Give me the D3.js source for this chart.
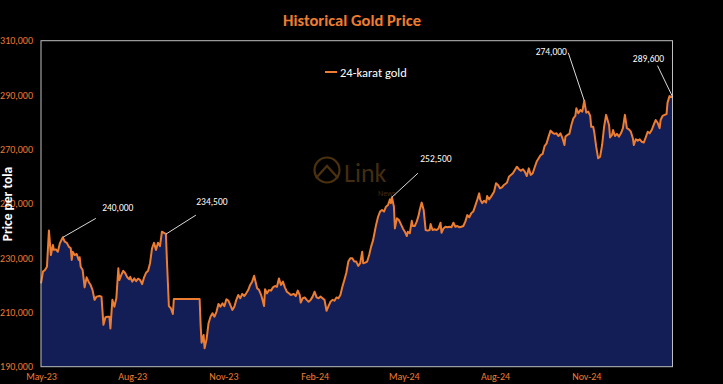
<!DOCTYPE html>
<html>
<head>
<meta charset="utf-8">
<script src="https://cdn.jsdelivr.net/npm/d3@7/dist/d3.min.js"></script>
<style>
  html, body { margin: 0; padding: 0; background: #000; }
  svg { display: block; }
</style>
</head>
<body>
<svg id="chart" width="723" height="384"></svg>
<script>
const title = "Historical Gold Price";
const seriesName = "24-karat gold";
const yAxisTitle = "Price per tola";

const dates = [
"2023-05-01","2023-05-03","2023-05-05","2023-05-07","2023-05-09","2023-05-11","2023-05-13","2023-05-14","2023-05-16","2023-05-18",
"2023-05-20","2023-05-22","2023-05-23","2023-05-25","2023-05-27","2023-05-29","2023-05-31","2023-06-01","2023-06-02","2023-06-04",
"2023-06-06","2023-06-08","2023-06-09","2023-06-10","2023-06-12","2023-06-14","2023-06-16","2023-06-18","2023-06-20","2023-06-22",
"2023-06-24","2023-06-26","2023-06-29","2023-07-01","2023-07-03","2023-07-05","2023-07-07","2023-07-09","2023-07-10","2023-07-12",
"2023-07-14","2023-07-16","2023-07-18","2023-07-19","2023-07-21","2023-07-23","2023-07-25","2023-07-27","2023-07-29","2023-07-30",
"2023-08-01","2023-08-03","2023-08-05","2023-08-07","2023-08-09","2023-08-11","2023-08-13","2023-08-15","2023-08-17","2023-08-19",
"2023-08-21","2023-08-23","2023-08-25","2023-08-27","2023-08-29","2023-08-31","2023-09-02","2023-09-04","2023-09-05","2023-09-07",
"2023-09-09","2023-09-11","2023-09-12","2023-10-08","2023-10-09","2023-10-10","2023-10-12","2023-10-13","2023-10-15","2023-10-17",
"2023-10-19","2023-10-21","2023-10-23","2023-10-25","2023-10-27","2023-10-29","2023-10-31","2023-11-02","2023-11-04","2023-11-06",
"2023-11-08","2023-11-10","2023-11-12","2023-11-14","2023-11-16","2023-11-18","2023-11-20","2023-11-22","2023-11-24","2023-11-26",
"2023-11-28","2023-11-30","2023-12-02","2023-12-03","2023-12-05","2023-12-07","2023-12-09","2023-12-10","2023-12-12","2023-12-13",
"2023-12-15","2023-12-17","2023-12-19","2023-12-21","2023-12-23","2023-12-25","2023-12-27","2023-12-29","2023-12-31","2024-01-02",
"2024-01-04","2024-01-06","2024-01-08","2024-01-11","2024-01-13","2024-01-15","2024-01-17","2024-01-18","2024-01-20","2024-01-22",
"2024-01-24","2024-01-26","2024-01-28","2024-01-30","2024-02-01","2024-02-03","2024-02-05","2024-02-07","2024-02-09","2024-02-11",
"2024-02-13","2024-02-15","2024-02-17","2024-02-19","2024-02-21","2024-02-23","2024-02-25","2024-02-27","2024-02-29","2024-03-02",
"2024-03-04","2024-03-06","2024-03-08","2024-03-10","2024-03-12","2024-03-14","2024-03-16","2024-03-18","2024-03-20","2024-03-21",
"2024-03-23","2024-03-25","2024-03-27","2024-03-29","2024-03-31","2024-04-01","2024-04-03","2024-04-05","2024-04-07","2024-04-09",
"2024-04-11","2024-04-13","2024-04-15","2024-04-17","2024-04-18","2024-04-19","2024-04-21","2024-04-22","2024-04-24","2024-04-26",
"2024-04-28","2024-04-30","2024-05-02","2024-05-04","2024-05-05","2024-05-07","2024-05-09","2024-05-10","2024-05-12","2024-05-14",
"2024-05-16","2024-05-17","2024-05-19","2024-05-21","2024-05-23","2024-05-25","2024-05-27","2024-05-28","2024-05-30","2024-06-01",
"2024-06-03","2024-06-05","2024-06-07","2024-06-08","2024-06-10","2024-06-12","2024-06-14","2024-06-16","2024-06-18","2024-06-20",
"2024-06-22","2024-06-24","2024-06-26","2024-06-28","2024-06-30","2024-07-02","2024-07-04","2024-07-06","2024-07-08","2024-07-10",
"2024-07-12","2024-07-14","2024-07-16","2024-07-17","2024-07-19","2024-07-21","2024-07-23","2024-07-24","2024-07-26","2024-07-28",
"2024-07-31","2024-08-02","2024-08-04","2024-08-06","2024-08-08","2024-08-10","2024-08-13","2024-08-15","2024-08-17","2024-08-19",
"2024-08-21","2024-08-23","2024-08-25","2024-08-27","2024-08-29","2024-08-31","2024-09-02","2024-09-04","2024-09-06","2024-09-08",
"2024-09-10","2024-09-12","2024-09-14","2024-09-16","2024-09-18","2024-09-20","2024-09-22","2024-09-24","2024-09-26","2024-09-28",
"2024-09-30","2024-10-02","2024-10-04","2024-10-06","2024-10-08","2024-10-10","2024-10-11","2024-10-13","2024-10-15","2024-10-17",
"2024-10-19","2024-10-21","2024-10-22","2024-10-24","2024-10-26","2024-10-28","2024-10-30","2024-11-01","2024-11-03","2024-11-05",
"2024-11-06","2024-11-08","2024-11-09","2024-11-11","2024-11-13","2024-11-15","2024-11-17","2024-11-19","2024-11-21","2024-11-24",
"2024-11-25","2024-11-27","2024-11-28","2024-11-30","2024-12-02","2024-12-04","2024-12-06","2024-12-08","2024-12-10","2024-12-12",
"2024-12-14","2024-12-16","2024-12-18","2024-12-19","2024-12-21","2024-12-23","2024-12-25","2024-12-27","2024-12-29","2024-12-31",
"2025-01-02","2025-01-04","2025-01-06","2025-01-08","2025-01-10","2025-01-12","2025-01-14","2025-01-15","2025-01-17","2025-01-19",
"2025-01-21","2025-01-22","2025-01-24","2025-01-26","2025-01-27"
];

const prices = [
220700,225000,225600,226800,240100,231100,234800,233000,233200,232300,
235400,236900,237600,236000,235600,234200,233600,229300,232300,231100,
231500,229300,230300,226800,225600,219200,222900,221300,220100,218200,
214600,215800,216000,215800,205400,208200,208400,208400,204100,214600,
212100,215200,226200,221900,223800,225300,224400,222900,222200,223100,
221300,222500,221500,222400,221900,220400,222900,224600,225300,228100,
233600,235600,233000,235600,234400,239700,239300,238800,229300,212300,
211500,209400,214900,214900,205400,198800,201700,196800,200100,206000,
208400,209700,208400,210200,213100,212100,213300,212300,214800,214300,
212700,210900,212100,214600,216400,215200,216800,216000,217000,218200,
220100,221300,223500,221900,218900,218200,216400,215200,212300,218500,
217000,218200,218000,219200,219700,219400,222500,220100,221300,219200,
217600,217000,216400,216800,216000,218000,216400,213600,215200,215500,
214600,213900,214600,215800,217600,215500,215200,215800,215200,214600,
210600,212300,213900,214600,214300,215500,215200,216400,219400,221900,
224600,228700,229900,229900,228700,228700,227100,228100,232300,228100,
228300,228700,231100,234200,236600,238500,242200,245200,247100,247700,
247100,248900,249500,251600,250200,252400,248900,240900,244600,244000,
242500,240900,239700,238100,239700,239100,243700,241800,241800,243400,
245800,247700,250400,247700,240300,240100,240300,242500,240300,240600,
240300,240900,243000,239300,240900,241500,241300,241500,241300,243000,
241500,241800,241300,241500,241800,243400,245800,245000,246500,247100,
249200,251400,253800,251600,250200,251100,250400,252800,251600,252600,
254400,257500,256900,255700,256000,256900,257700,259900,260600,261200,
262400,263600,262700,262100,262700,261800,260200,263000,260600,261200,
263400,265500,266700,267900,268300,271200,272200,274700,276900,276100,
275700,275900,274900,275900,274100,271600,274700,275300,275700,279000,
281400,282300,285100,283300,284500,283900,287900,283500,283900,282300,
278300,278300,276500,271000,266700,267300,271600,278300,282700,279000,
274400,275300,277100,274900,275700,274700,275900,277800,282700,277800,
277400,276500,274100,271600,273700,273200,273700,272800,272500,274400,
276500,275900,277100,279000,280800,279800,277800,280800,282300,282700,
283000,287200,289600,289200,289400
];

const yTicks = [190000, 210000, 230000, 250000, 270000, 290000, 310000];
const xTicks = ["2023-05-01","2023-08-01","2023-11-01","2024-02-01","2024-05-01","2024-08-01","2024-11-01"];

const annotationDates = ["2023-05-23","2023-09-04","2024-04-19","2024-10-30","2025-01-27"];
const annotationLabels = ["240,000","234,500","252,500","274,000","289,600"];
// offsets of connector end / label centre from the point (style)
const annotationOffsets = [[33,-19,55,-29],[30,-19,46,-32],[26,-24,44,-38],[-16,-48,-33,-49],[-15,-31,-24,-38]];

const parse = d3.utcParse("%Y-%m-%d");
const data = dates.map((d, i) => ({ date: parse(d), value: prices[i] }));

const ORANGE = "#ED7D31";
const FILL = "#131d56";
const FONT = "Carlito, 'Liberation Sans Narrow', 'Open Sans', 'Liberation Sans', sans-serif";

const plot = { left: 41, right: 672.5, top: 40.7, bottom: 366.7 };

const svg = d3.select("#chart");
svg.append("rect").attr("width", 723).attr("height", 384).attr("fill", "#000");

const x = d3.scaleUtc()
  .domain(d3.extent(data, d => d.date))
  .range([plot.left, plot.right]);
const y = d3.scaleLinear()
  .domain([190000, 310000])
  .range([plot.bottom, plot.top]);

// watermark
const wm = svg.append("g").attr("opacity", 0.55);
wm.append("circle").attr("cx", 327).attr("cy", 170).attr("r", 12.5)
  .attr("fill", "none").attr("stroke", "#8a5a1c").attr("stroke-width", 2.2);
wm.append("path").attr("d", "M316,178 L327,166 L338,178")
  .attr("fill", "none").attr("stroke", "#8a5a1c").attr("stroke-width", 2.2);
wm.append("text").attr("x", 344).attr("y", 182).attr("font-family", FONT)
  .attr("font-size", 26).attr("fill", "#7a5220").text("Link");
wm.append("text").attr("x", 378).attr("y", 196).attr("font-family", FONT)
  .attr("font-size", 8).attr("fill", "#7a5220").text("News");

// area + line
const area = d3.area()
  .x(d => x(d.date)).y0(y(190000)).y1(d => y(d.value));
const line = d3.line()
  .x(d => x(d.date)).y(d => y(d.value));

svg.append("path").datum(data).attr("d", area).attr("fill", FILL);
svg.append("path").datum(data).attr("d", line)
  .attr("fill", "none").attr("stroke", ORANGE).attr("stroke-width", 2)
  .attr("stroke-linejoin", "round");

// frame
svg.append("rect")
  .attr("x", plot.left).attr("y", plot.top)
  .attr("width", plot.right - plot.left).attr("height", plot.bottom - plot.top)
  .attr("fill", "none").attr("stroke", "#bfbfbf").attr("stroke-width", 1);

// y axis
const yAxis = d3.axisLeft(y).tickValues(yTicks).tickSize(0).tickPadding(0)
  .tickFormat(d3.format(","));
const gy = svg.append("g").attr("transform", "translate(33,0)").call(yAxis);
gy.select(".domain").remove();
gy.selectAll("text").attr("fill", ORANGE).attr("font-family", FONT).attr("font-size", 10);

// x axis
const xAxis = d3.axisBottom(x).tickValues(xTicks.map(parse)).tickSize(0).tickPadding(0)
  .tickFormat(d3.utcFormat("%b-%y"));
const gx = svg.append("g").attr("transform", `translate(0,${plot.bottom + 6})`).call(xAxis);
gx.select(".domain").remove();
gx.selectAll("text").attr("fill", ORANGE).attr("font-family", FONT).attr("font-size", 10);

// y axis title
svg.append("text")
  .attr("transform", "translate(12,204) rotate(-90)")
  .attr("text-anchor", "middle").attr("font-family", FONT)
  .attr("font-size", 13.5).attr("font-weight", "bold").attr("fill", "#fff")
  .text(yAxisTitle);

// title
svg.append("text").attr("x", 352).attr("y", 26).attr("text-anchor", "middle")
  .attr("font-family", FONT).attr("font-size", 16.5).attr("font-weight", "bold")
  .attr("fill", ORANGE).text(title);

// legend
svg.append("line").attr("x1", 325).attr("x2", 337).attr("y1", 72).attr("y2", 72)
  .attr("stroke", ORANGE).attr("stroke-width", 2);
svg.append("text").attr("x", 340).attr("y", 72).attr("dominant-baseline", "central")
  .attr("font-family", FONT).attr("font-size", 12.5).attr("fill", "#fff").text(seriesName);

// annotations
annotationDates.forEach((ds, i) => {
  const p = data.find(d => +d.date === +parse(ds));
  const px = x(p.date), py = y(p.value);
  const o = annotationOffsets[i];
  svg.append("line").attr("x1", px).attr("y1", py).attr("x2", px + o[0]).attr("y2", py + o[1])
    .attr("stroke", "#d9d9d9").attr("stroke-width", 1);
  svg.append("text").attr("x", px + o[2]).attr("y", py + o[3])
    .attr("text-anchor", "middle").attr("dominant-baseline", "central")
    .attr("font-family", FONT).attr("font-size", 9.5).attr("fill", "#fff")
    .text(annotationLabels[i]);
});
</script>
</body>
</html>
